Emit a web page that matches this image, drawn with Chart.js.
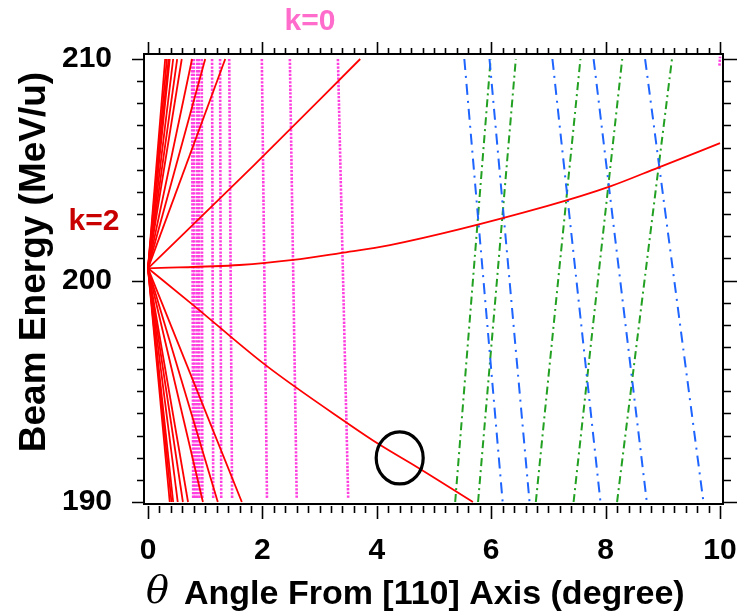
<!DOCTYPE html>
<html>
<head>
<meta charset="utf-8">
<script src="https://cdn.jsdelivr.net/npm/chart.js@4.4.1/dist/chart.umd.min.js"></script>
<style>
  html, body { margin: 0; padding: 0; background: #fff; }
  #wrap { width: 737px; height: 611px; position: relative; }
</style>
</head>
<body>
<div id="wrap"><canvas id="c" width="737" height="611"></canvas></div>
<script>
// ---------------- data ----------------
const xTickValues = [0, 2, 4, 6, 8, 10];
const yTickValues = [190, 200, 210];
const xTitleSymbol = 'θ';
const xTitleText = 'Angle From [110] Axis (degree)';
const yTitleText = 'Beam Energy (MeV/u)';
const labelK0 = 'k=0';
const labelK2 = 'k=2';

// k=2 (red) lines all start at θ=0, E = 200.55 MeV/u
const redOriginTheta = 0;
const redOriginEnergy = 200.55;
// θ where the steep rising red lines reach 210 MeV/u
const redUpTheta = [0.30, 0.33, 0.36, 0.38, 0.44, 0.51, 0.59, 0.77, 1.00, 1.35];
// θ where the steep falling red lines reach 190 MeV/u
const redDownTheta = [0.38, 0.41, 0.44, 0.52, 0.61, 0.70, 0.96, 1.22, 1.64];
// the three long red curves [θ, E]
const redRisingCurve = [[0, 200.55], [1.85, 205.2], [3.71, 210]];
const redFallingCurve = [[0, 200.55], [0.79, 198.89], [2.05, 196.19], [3.48, 193.57], [4.06, 192.57], [4.70, 191.58], [5.68, 190.0]];
const redFlatCurve = [[0, 200.55], [1.6, 200.7], [2.54, 200.93], [3.36, 201.24], [4.23, 201.6], [6.97, 203.36], [8.08, 204.25], [8.92, 205.1], [10, 206.2]];

// k=0 (pink dotted) lines: θ at 210 (top) and at 190 (bottom)
const pinkTopTheta    = [0.77, 0.80, 0.86, 0.89, 0.94, 1.12, 1.26, 1.42, 1.99, 2.48, 3.32];
const pinkBottomTheta = [0.79, 0.82, 0.86, 0.90, 0.95, 1.14, 1.28, 1.47, 2.08, 2.60, 3.50];
const pinkCornerTheta = [9.99, 10.0];
const pinkCornerEnergy = [209.7, 210.1];

// green dash-dot lines: θ at 190 (bottom) and 210 (top)
const greenBottomTheta = [5.37, 5.77, 6.78, 7.44, 8.20];
const greenTopTheta    = [5.99, 6.43, 7.56, 8.29, 9.16];
// blue dash-dot lines: θ at 210 (top) and 190 (bottom)
const blueTopTheta    = [5.53, 5.97, 7.07, 7.79, 8.69];
const blueBottomTheta = [6.20, 6.67, 7.91, 8.72, 9.71];

// highlighted point (circled)
const circleCenter = [4.40, 191.99];

const E_LOW = 190, E_HIGH = 210;

// ---------------- datasets ----------------
const datasets = [];
const base = { showLine: true, pointRadius: 0, pointHoverRadius: 0, fill: false };

function addLine(points, style, name) {
  datasets.push(Object.assign({}, base, style, { label: name, data: points.map(p => ({ x: p[0], y: p[1] })) }));
}

const redStyle = { borderColor: '#ff0000', borderWidth: 1.8 };
redUpTheta.forEach((t, i) => addLine([[redOriginTheta, redOriginEnergy], [t, E_HIGH]], redStyle, 'k2 up ' + i));
redDownTheta.forEach((t, i) => addLine([[redOriginTheta, redOriginEnergy], [t, E_LOW]], redStyle, 'k2 down ' + i));
addLine(redRisingCurve, Object.assign({ cubicInterpolationMode: 'monotone' }, redStyle), 'k2 rising');
addLine(redFallingCurve, Object.assign({ cubicInterpolationMode: 'monotone' }, redStyle), 'k2 falling');
addLine(redFlatCurve, Object.assign({ cubicInterpolationMode: 'monotone' }, redStyle), 'k2 flat');

const blueStyle = { borderColor: '#1e64ff', borderWidth: 2, borderDash: [11, 6, 2, 6] };
blueTopTheta.forEach((t, i) => addLine([[t, E_HIGH], [blueBottomTheta[i], E_LOW]], blueStyle, 'blue ' + i));
const greenStyle = { borderColor: '#22a022', borderWidth: 2, borderDash: [8, 4, 2, 4] };
greenBottomTheta.forEach((t, i) => addLine([[t, E_LOW], [greenTopTheta[i], E_HIGH]], greenStyle, 'green ' + i));

const pinkStyle = { borderColor: '#ff3fe0', borderWidth: 2.6, borderDash: [2.3, 1.4] };
pinkTopTheta.forEach((t, i) => addLine([[t, E_HIGH], [pinkBottomTheta[i], E_LOW + 0.15]], pinkStyle, 'k0 ' + i));
addLine([[pinkCornerTheta[0], pinkCornerEnergy[0]], [pinkCornerTheta[1], pinkCornerEnergy[1]]], pinkStyle, 'k0 corner');

// ---------------- decorations (frame, ticks, titles, circle) ----------------
const FONT = '"Liberation Sans", Arial, sans-serif';
const decor = {
  id: 'decor',
  afterDatasetsDraw(chart) {
    const { ctx, chartArea: a, scales: { x, y } } = chart;
    ctx.save();
    // circle marker
    ctx.beginPath();
    ctx.ellipse(x.getPixelForValue(circleCenter[0]), y.getPixelForValue(circleCenter[1]), 23.5, 26, 0, 0, Math.PI * 2);
    ctx.lineWidth = 3.2; ctx.strokeStyle = '#000'; ctx.stroke();
    // frame
    ctx.lineWidth = 2;
    ctx.strokeRect(a.left, a.top, a.right - a.left, a.bottom - a.top);
    // ticks
    ctx.lineWidth = 1.6;
    ctx.beginPath();
    for (let i = 0; i <= 50; i++) {
      const v = i * 0.2;
      const px = Math.round(x.getPixelForValue(v)) + 0.5;
      const major = i % 10 === 0;
      ctx.moveTo(px, a.top); ctx.lineTo(px, a.top - (major ? 12 : 6));
      ctx.moveTo(px, a.bottom + 2); ctx.lineTo(px, a.bottom + (major ? 15 : 9));
    }
    for (let v = 190; v <= 210; v++) {
      const py = Math.round(y.getPixelForValue(v)) + 0.5;
      const major = v % 10 === 0;
      ctx.moveTo(a.left, py); ctx.lineTo(a.left - (major ? 12 : 7), py);
      ctx.moveTo(a.right, py); ctx.lineTo(a.right + (major ? 14 : 8), py);
    }
    ctx.stroke();
    ctx.restore();
  },
  afterDraw(chart) {
    const { ctx } = chart;
    ctx.save();
    ctx.textBaseline = 'middle';
    ctx.textAlign = 'center';
    // k labels
    ctx.font = 'bold 30px ' + FONT;
    ctx.fillStyle = '#ff6ccb';
    ctx.fillText(labelK0, 310, 22);
    ctx.fillStyle = '#c80000';
    ctx.fillText(labelK2, 94, 222);
    // y title
    ctx.fillStyle = '#000';
    ctx.save();
    ctx.translate(35, 262);
    ctx.rotate(-Math.PI / 2);
    ctx.font = 'bold 37px ' + FONT;
    ctx.fillText(yTitleText, 0, 0);
    ctx.restore();
    // x title (θ italic + text)
    ctx.textAlign = 'left';
    ctx.textBaseline = 'alphabetic';
    ctx.font = 'italic 38px "DejaVu Serif", serif';
    ctx.fillText(xTitleSymbol, 146, 603);
    ctx.font = 'bold 34px ' + FONT;
    ctx.fillText(xTitleText, 184, 604);
    ctx.restore();
  }
};

new Chart(document.getElementById('c'), {
  type: 'scatter',
  data: { datasets },
  options: {
    responsive: false,
    animation: false,
    devicePixelRatio: 1,
    layout: { padding: { top: 54, right: 14, left: 0, bottom: 0 } },
    plugins: { legend: { display: false }, tooltip: { enabled: false } },
    events: [],
    scales: {
      x: {
        type: 'linear', min: -0.07, max: 10.052,
        grid: { display: false }, border: { display: false },
        afterBuildTicks: s => { s.ticks = xTickValues.map(v => ({ value: v })); },
        afterFit: s => { s.height = 107; s.paddingLeft = 0; s.paddingRight = 0; },
        ticks: { color: '#000', font: { family: FONT, size: 30, weight: 'bold' }, padding: 21, maxRotation: 0, autoSkip: false }
      },
      y: {
        type: 'linear', min: 189.91, max: 210.226,
        grid: { display: false }, border: { display: false },
        afterBuildTicks: s => { s.ticks = yTickValues.map(v => ({ value: v })); },
        afterFit: s => { s.width = 144; s.paddingTop = 0; s.paddingBottom = 0; },
        ticks: { color: '#000', font: { family: FONT, size: 30, weight: 'bold' }, padding: 24, autoSkip: false }
      }
    }
  },
  plugins: [decor]
});
</script>
</body>
</html>
